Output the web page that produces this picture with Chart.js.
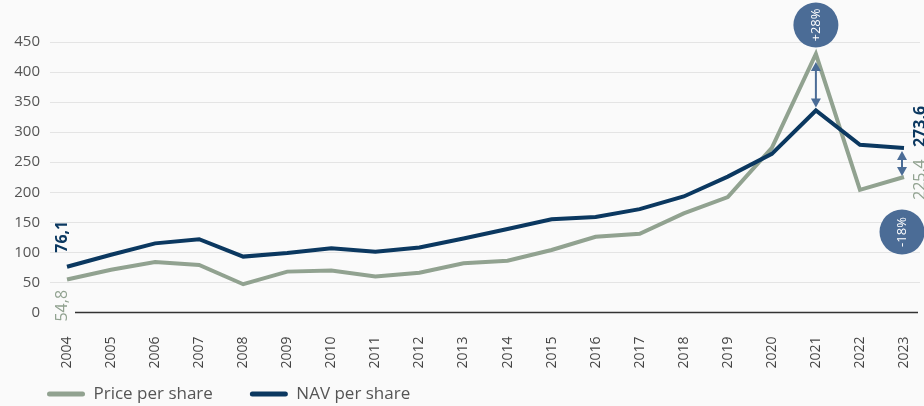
<!DOCTYPE html>
<html>
<head>
<meta charset="utf-8">
<script src="https://cdn.jsdelivr.net/npm/chart.js@4.4.1/dist/chart.umd.min.js"></script>
<style>
  html, body { margin: 0; padding: 0; background: #fafafa; }
  canvas { display: block; }
</style>
</head>
<body>
<canvas id="chart" width="924" height="406"></canvas>
<script>
// chart data
var years = ['2004', '2005', '2006', '2007', '2008', '2009', '2010', '2011', '2012', '2013',
             '2014', '2015', '2016', '2017', '2018', '2019', '2020', '2021', '2022', '2023'];
var priceValues = [54.8, 71, 84, 79, 47, 68, 70, 60, 66, 82, 86, 104, 126, 131, 165, 192, 274, 430, 204, 225.4];
var navValues = [76.1, 96, 115, 122, 93, 99, 107, 101, 108, 123, 139, 155, 159, 172, 193, 226, 264, 336, 279, 273.6];
var yTicks = [0, 50, 100, 150, 200, 250, 300, 350, 400, 450];
var gapYears = ['2021', '2023'];

var navColor = '#0b3860';
var priceColor = '#91a290';
var markColor = '#4b6c96';

Chart.defaults.font.family = "'Open Sans', sans-serif";

function fmt(v) {
  return v.toFixed(1).replace('.', ',');
}

// rotated text, reading bottom to top
function upText(ctx, text, x, y, align) {
  ctx.save();
  ctx.translate(x, y);
  ctx.rotate(-Math.PI / 2);
  ctx.textAlign = align;
  ctx.textBaseline = 'middle';
  ctx.fillText(text, 0, 0);
  ctx.restore();
}

function drawArrow(ctx, x, yTop, yBottom) {
  ctx.strokeStyle = markColor;
  ctx.fillStyle = markColor;
  ctx.lineWidth = 2;
  ctx.beginPath();
  ctx.moveTo(x, yTop + 5);
  ctx.lineTo(x, yBottom - 5);
  ctx.stroke();
  ctx.beginPath();
  ctx.moveTo(x, yTop);
  ctx.lineTo(x - 5, yTop + 9);
  ctx.lineTo(x + 5, yTop + 9);
  ctx.closePath();
  ctx.fill();
  ctx.beginPath();
  ctx.moveTo(x, yBottom);
  ctx.lineTo(x - 5, yBottom - 9);
  ctx.lineTo(x + 5, yBottom - 9);
  ctx.closePath();
  ctx.fill();
}

function drawBadge(ctx, x, y, text) {
  ctx.fillStyle = markColor;
  ctx.beginPath();
  ctx.arc(x, y, 22.5, 0, Math.PI * 2);
  ctx.fill();
  ctx.fillStyle = '#ffffff';
  ctx.font = "13px 'Open Sans', sans-serif";
  upText(ctx, text, x, y, 'center');
}

function pct(i) {
  var p = Math.round((priceValues[i] / navValues[i] - 1) * 100);
  return (p > 0 ? '+' : '') + p + '%';
}

// grid, baseline, value labels and premium/discount marks
var extrasPlugin = {
  id: 'extras',
  afterLayout: function(chart) {
    // legend sits lower than its layout box
    var lg = chart.legend;
    lg.top = 348.5;
    lg.bottom = chart.height;
    lg.height = lg.bottom - lg.top;
  },
  beforeDatasetsDraw: function(chart) {
    var ctx = chart.ctx, ys = chart.scales.y, area = chart.chartArea;
    ctx.save();
    ctx.strokeStyle = '#e4e4e4';
    ctx.lineWidth = 1;
    yTicks.forEach(function(v) {
      if (v === 0) return;
      var py = Math.round(ys.getPixelForValue(v)) + 0.5;
      ctx.beginPath();
      ctx.moveTo(area.left - 17, py);
      ctx.lineTo(area.right + 16, py);
      ctx.stroke();
    });
    var p0 = ys.getPixelForValue(0);
    ctx.strokeStyle = '#333333';
    ctx.lineWidth = 1.5;
    ctx.beginPath();
    ctx.moveTo(area.left + 8, p0);
    ctx.lineTo(area.right + 14, p0);
    ctx.stroke();
    ctx.restore();
  },
  afterDatasetsDraw: function(chart) {
    var ctx = chart.ctx, xs = chart.scales.x, ys = chart.scales.y;
    var last = years.length - 1;
    ctx.save();

    // first and last values
    var x0 = xs.getPixelForValue(0);
    var xl = xs.getPixelForValue(last);
    ctx.font = "bold 16px 'Open Sans', sans-serif";
    ctx.fillStyle = navColor;
    upText(ctx, fmt(navValues[0]), x0 - 5, ys.getPixelForValue(navValues[0]) - 14, 'left');
    upText(ctx, fmt(navValues[last]), xl + 16, ys.getPixelForValue(navValues[last]) - 1, 'left');
    ctx.font = "16px 'Open Sans', sans-serif";
    ctx.fillStyle = priceColor;
    upText(ctx, fmt(priceValues[0]), x0 - 5, ys.getPixelForValue(priceValues[0]) + 42, 'left');
    upText(ctx, fmt(priceValues[last]), xl + 16, ys.getPixelForValue(priceValues[last]) + 23, 'left');

    // 2021 premium
    var i = years.indexOf(gapYears[0]);
    var xa = xs.getPixelForValue(i);
    var yp = ys.getPixelForValue(priceValues[i]);
    var yn = ys.getPixelForValue(navValues[i]);
    drawArrow(ctx, xa, yp + 8, yn - 3);
    drawBadge(ctx, xa, chart.chartArea.top - 17, pct(i));

    // 2023 discount
    var j = years.indexOf(gapYears[1]);
    var xb = xs.getPixelForValue(j) - 2;
    var yn2 = ys.getPixelForValue(navValues[j]);
    var yp2 = ys.getPixelForValue(priceValues[j]);
    drawArrow(ctx, xb, yn2 + 3, yp2 - 1);
    drawBadge(ctx, xb, yp2 + 55, pct(j));

    ctx.restore();
  }
};

var context = document.getElementById('chart').getContext('2d');
var myChart = new Chart(context, {
  type: 'line',
  data: {
    labels: years,
    datasets: [{
      label: 'Price per share',
      data: priceValues,
      borderColor: priceColor,
      backgroundColor: priceColor,
      borderWidth: 4,
      pointRadius: 0,
      tension: 0,
      order: 1
    }, {
      label: 'NAV per share',
      data: navValues,
      borderColor: navColor,
      backgroundColor: navColor,
      borderWidth: 4,
      pointRadius: 0,
      tension: 0,
      order: 0
    }]
  },
  options: {
    responsive: false,
    animation: false,
    layout: { padding: { top: 42, left: 10, right: 20, bottom: 0 } },
    scales: {
      x: {
        grid: { display: false, drawTicks: false },
        border: { display: false },
        ticks: {
          autoSkip: false,
          minRotation: 90,
          maxRotation: 90,
          padding: 24,
          color: '#444444',
          font: { size: 14 }
        },
        afterFit: function(scale) {
          scale.height = 58;
          scale.paddingLeft = 0;
          scale.paddingRight = 0;
        }
      },
      y: {
        min: 0,
        max: 450,
        grid: { display: false, drawTicks: false },
        border: { display: false },
        ticks: {
          stepSize: 50,
          padding: 27,
          color: '#555555',
          font: { size: 15 }
        },
        afterFit: function(scale) { scale.width = 57; }
      }
    },
    plugins: {
      tooltip: { enabled: false },
      legend: {
        position: 'bottom',
        align: 'start',
        maxHeight: 35.5,
        labels: {
          boxWidth: 38,
          boxHeight: 5,
          useBorderRadius: true,
          borderRadius: 2.5,
          padding: 37,
          color: '#555555',
          font: { size: 17 },
          sort: function(a, b) { return a.datasetIndex - b.datasetIndex; },
          generateLabels: function(chart) {
            var items = Chart.defaults.plugins.legend.labels.generateLabels(chart);
            items.forEach(function(it) { it.lineWidth = 0; });
            return items;
          }
        }
      }
    }
  },
  plugins: [extrasPlugin]
});
</script>
</body>
</html>
